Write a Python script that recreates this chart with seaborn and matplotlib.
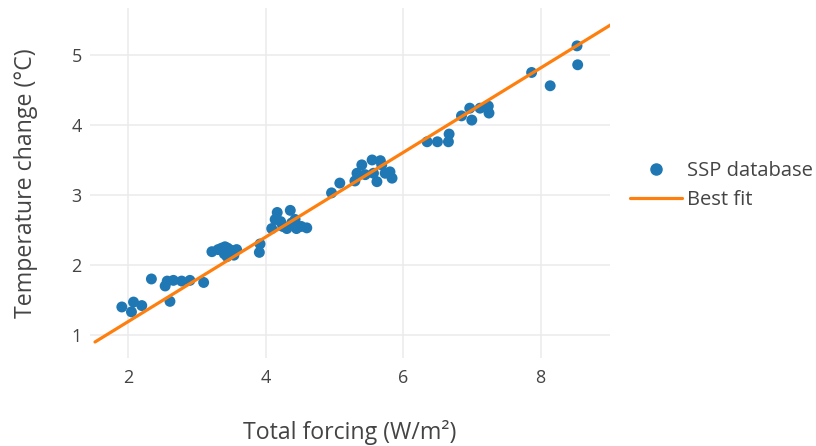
import matplotlib
matplotlib.use("Agg")
import matplotlib.pyplot as plt
import seaborn as sns
import pandas as pd
from matplotlib.lines import Line2D

# Scenario results: total radiative forcing vs. warming
forcing = [1.91, 2.05, 2.08, 2.20, 2.34, 2.54, 2.57, 2.61, 2.66, 2.78, 2.90, 3.10,
           3.22, 3.31, 3.36, 3.41, 3.45, 3.40, 3.44, 3.50, 3.54, 3.58, 3.91, 3.92,
           4.09, 4.14, 4.17, 4.22, 4.25, 4.31, 4.36, 4.38, 4.43, 4.45, 4.52, 4.60,
           4.96, 5.08, 5.30, 5.33, 5.40, 5.45, 5.55, 5.57, 5.62, 5.67, 5.69, 5.74, 5.81, 5.84,
           6.35, 6.50, 6.66, 6.67, 6.85, 6.97, 7.00, 7.12, 7.24, 7.25,
           7.87, 8.14, 8.53, 8.54]
temperature = [1.40, 1.33, 1.47, 1.42, 1.80, 1.70, 1.77, 1.48, 1.78, 1.77, 1.78, 1.75,
               2.19, 2.22, 2.24, 2.26, 2.24, 2.16, 2.12, 2.21, 2.14, 2.22, 2.18, 2.30,
               2.52, 2.65, 2.75, 2.62, 2.55, 2.52, 2.78, 2.60, 2.65, 2.52, 2.55, 2.53,
               3.03, 3.17, 3.20, 3.31, 3.43, 3.29, 3.50, 3.31, 3.19, 3.49, 3.43, 3.31, 3.33, 3.24,
               3.76, 3.76, 3.76, 3.87, 4.13, 4.24, 4.07, 4.24, 4.27, 4.17,
               4.75, 4.56, 5.13, 4.86]

# Linear best fit endpoints
fit_x = [1.52, 9.02]
fit_y = [0.90, 5.43]

x_ticks = [2, 4, 6, 8]
y_ticks = [1, 2, 3, 4, 5]

sns.set_theme(style="white")
plt.rcParams["font.family"] = ["Open Sans", "DejaVu Sans"]

TEXT = "#444444"
BLUE = "#1f77b4"
ORANGE = "#ff7f0e"

fig = plt.figure(figsize=(8.16, 4.46), dpi=100)
ax = fig.add_axes([90 / 816, 1 - 358 / 446, 520 / 816, 350 / 446])

points = pd.DataFrame({"forcing": forcing, "temperature": temperature})
fit = pd.DataFrame({"forcing": fit_x, "temperature": fit_y})

sns.scatterplot(data=points, x="forcing", y="temperature", ax=ax, color=BLUE,
                s=62, edgecolor="none", linewidth=0, zorder=3, legend=False)
sns.lineplot(data=fit, x="forcing", y="temperature", ax=ax, color=ORANGE,
             linewidth=2.3, zorder=4, legend=False)

ax.set_xlim(1.447, 9.01)
ax.set_ylim(0.671, 5.671)
ax.set_xticks(x_ticks)
ax.set_yticks(y_ticks)
ax.set_xticklabels([str(v) for v in x_ticks])
ax.set_yticklabels([str(v) for v in y_ticks])

for s in ax.spines.values():
    s.set_visible(False)
ax.grid(True, color="#ebebeb", linewidth=1.1)
ax.set_axisbelow(True)
ax.tick_params(axis="both", length=0, labelsize=13, labelcolor=TEXT)
ax.tick_params(axis="x", pad=8)
ax.tick_params(axis="y", pad=6)

ax.set_xlabel("Total forcing (W/m²)", fontsize=16.7, color=TEXT, labelpad=24)
ax.set_ylabel("Temperature change (°C)", fontsize=16.7, color=TEXT, labelpad=24)

handles = [
    Line2D([], [], marker="o", linestyle="none", color=BLUE, markersize=8),
    Line2D([], [], color=ORANGE, linewidth=2.3),
]
leg = fig.legend(handles, ["SSP database", "Best fit"], loc="upper left",
                 bbox_to_anchor=(622 / 816, 1 - 153 / 446), frameon=False,
                 fontsize=14.5, labelcolor=TEXT, handlelength=2.6,
                 handletextpad=0.22, labelspacing=0.45, borderaxespad=0)

fig.savefig("out.png", dpi=100)
